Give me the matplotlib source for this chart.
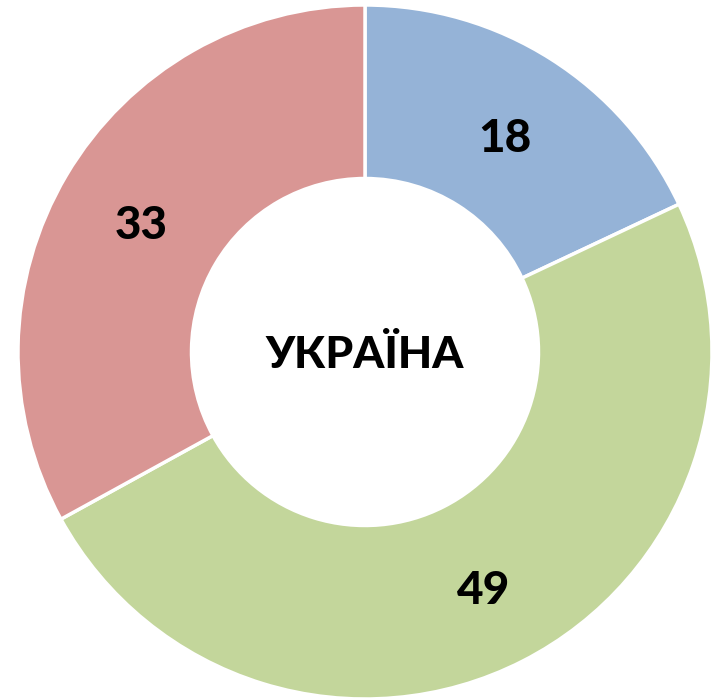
import matplotlib.pyplot as plt

# дані
categories = ["A", "B", "C"]
values = [18, 49, 33]
colors = ["#95B3D7", "#C3D69B", "#D99694"]
center_label = "УКРАЇНА"

fig = plt.figure(figsize=(7.17, 6.98), dpi=100)
ax = fig.add_axes([18 / 717, -1 / 698, 694 / 717, 694 / 698])

wedges, texts, autotexts = ax.pie(
    values,
    colors=colors,
    startangle=90,
    counterclock=False,
    radius=1,
    autopct=lambda p: f"{p:.0f}",
    pctdistance=0.75,
    wedgeprops=dict(width=0.5, edgecolor="white", linewidth=2.5),
    textprops=dict(fontsize=33, fontweight=900, family="Lato", color="black"),
)
# трохи нижче, як у оригіналі
for t in autotexts:
    x, y = t.get_position()
    t.set_position((x, y - 0.02))

ax.text(0, -0.01, center_label, ha="center", va="center",
        fontsize=32, fontweight=900, family="Lato")

ax.set_xlim(-1, 1)
ax.set_ylim(-1, 1)
ax.axis("off")

fig.savefig("out.png", dpi=100)
